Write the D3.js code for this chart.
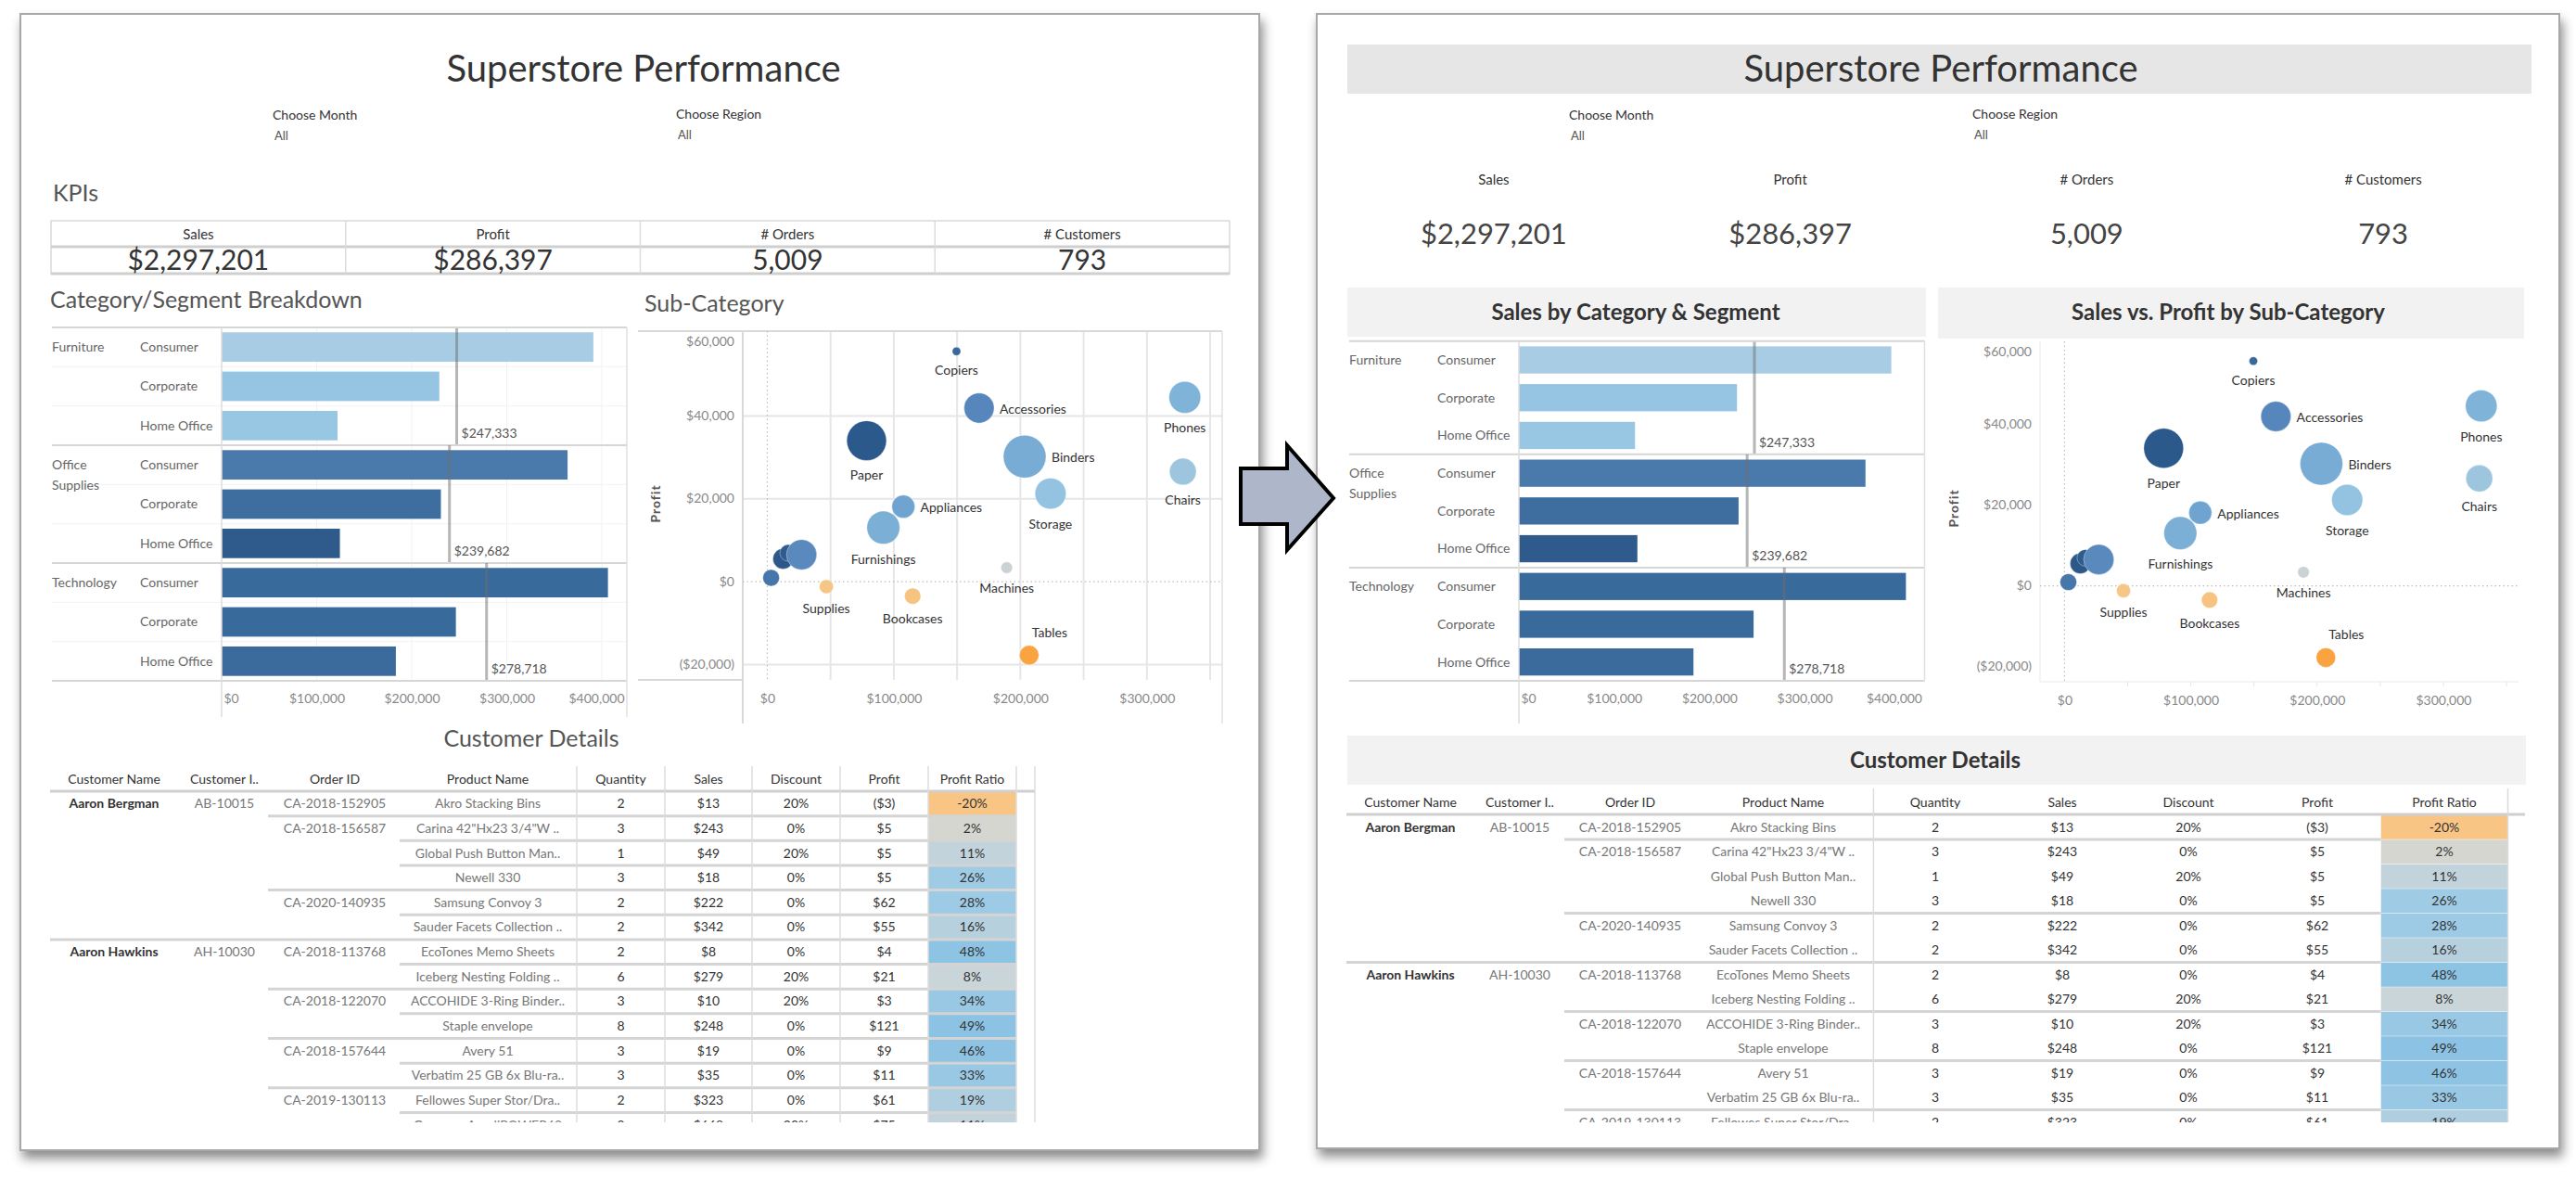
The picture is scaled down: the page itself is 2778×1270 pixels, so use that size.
<!DOCTYPE html>
<html>
<head>
<meta charset="utf-8">
<script src="https://cdn.jsdelivr.net/npm/d3@7"></script>
<style>
  body { margin: 0; background: #ffffff; }
  svg { display: block; font-family: Lato, "Open Sans", "Noto Sans", sans-serif; }
</style>
</head>
<body>
<svg id="chart" width="2778" height="1270"></svg>
<script>
// ===================== DATA =====================
const dashboardTitle = "Superstore Performance";
const filterLabels = ["Choose Month", "Choose Region"];
const filterValues = ["All", "All"];

const kpiLabels = ["Sales", "Profit", "# Orders", "# Customers"];
const kpiValues = ["$2,297,201", "$286,397", "5,009", "793"];

const categories = ["Furniture", "Office Supplies", "Technology"];
const segments = ["Consumer", "Corporate", "Home Office"];
const furnitureSales = [391049, 229019, 121930];
const officeSuppliesSales = [363952, 230676, 124418];
const technologySales = [406400, 246450, 183304];
const barTicks = [0, 100000, 200000, 300000, 400000];

const subCategories = ["Phones", "Chairs", "Storage", "Tables", "Binders", "Machines", "Accessories", "Copiers",
  "Bookcases", "Appliances", "Furnishings", "Paper", "Supplies", "Art", "Envelopes", "Labels", "Fasteners"];
const subSales = [330007, 328449, 223844, 206966, 203413, 189239, 167380, 149528,
  114880, 107532, 91705, 78479, 46674, 27119, 16476, 12486, 3024];
const subProfit = [44516, 26590, 21279, -17725, 30222, 3385, 41937, 55618,
  -3473, 18138, 13059, 34054, -1189, 6528, 6964, 5546, 950];
const subQuantity = [3289, 2356, 3158, 1241, 5974, 440, 2976, 234,
  868, 1729, 3563, 5178, 647, 3000, 906, 1364, 914];
const scatterXTicks = [0, 100000, 200000, 300000];
const scatterYTicks = [-20000, 0, 20000, 40000, 60000];

const tableHeaders = ["Customer Name", "Customer I..", "Order ID", "Product Name", "Quantity", "Sales", "Discount", "Profit", "Profit Ratio"];
const customerNames = ["Aaron Bergman", "", "", "", "", "", "Aaron Hawkins", "", "", "", "", "", "", ""];
const customerIds = ["AB-10015", "", "", "", "", "", "AH-10030", "", "", "", "", "", "", ""];
const orderIds = ["CA-2018-152905", "CA-2018-156587", "", "", "CA-2020-140935", "", "CA-2018-113768", "",
  "CA-2018-122070", "", "CA-2018-157644", "", "CA-2019-130113", ""];
const productNames = ["Akro Stacking Bins", "Carina 42\"Hx23 3/4\"W ..", "Global Push Button Man..", "Newell 330",
  "Samsung Convoy 3", "Sauder Facets Collection ..", "EcoTones Memo Sheets", "Iceberg Nesting Folding ..",
  "ACCOHIDE 3-Ring Binder..", "Staple envelope", "Avery 51", "Verbatim 25 GB 6x Blu-ra..",
  "Fellowes Super Stor/Dra..", "Geemarc AmpliPOWER60"];
const quantities = [2, 3, 1, 3, 2, 2, 2, 6, 3, 8, 3, 3, 2, 9];
const lineSales = [13, 243, 49, 18, 222, 342, 8, 279, 10, 248, 19, 35, 323, 668];
const discounts = [0.2, 0, 0.2, 0, 0, 0, 0, 0.2, 0.2, 0, 0, 0, 0, 0.2];
const lineProfits = [-3, 5, 5, 5, 62, 55, 4, 21, 3, 121, 9, 11, 61, 75];
const profitRatios = [-0.20, 0.02, 0.11, 0.26, 0.28, 0.16, 0.48, 0.08, 0.34, 0.49, 0.46, 0.33, 0.19, 0.11];

// ===================== STYLES =====================
const FONT = "Lato, 'Open Sans', sans-serif";
const barPalette = {
  "Furniture": ["#a7cce3", "#95c5e2", "#98c7e3"],
  "Office Supplies": ["#4a7aab", "#3e6e9f", "#2e5b8b"],
  "Technology": ["#386a9c", "#386a9c", "#3a6b9c"]
};
const bubbleColor = d3.scaleLinear()
  .domain([-0.09, -0.02, 0.02, 0.10, 0.17, 0.25, 0.44])
  .range(["#f9a03c", "#f6c98c", "#c8d3d8", "#90c2e0", "#6fa3d0", "#5686bb", "#2b5889"])
  .clamp(true);
const ratioColor = d3.scaleLinear()
  .domain([-0.2, 0, 0.1, 0.25, 0.5])
  .range(["#f8c585", "#dad7cf", "#c5d4da", "#a0cbe5", "#8bc2e3"])
  .clamp(true);
const labelPlacement = {
  Phones: "below", Chairs: "below", Storage: "below", Tables: "aboveRight", Binders: "right",
  Machines: "below", Accessories: "right", Copiers: "below", Bookcases: "below", Appliances: "right",
  Furnishings: "below", Paper: "below", Supplies: "below"
};

const salesByCategory = [furnitureSales, officeSuppliesSales, technologySales];
const locale = d3.formatLocale({ decimal: ".", thousands: ",", grouping: [3], currency: ["$", ""], minus: "-" });
const money = v => (v < 0 ? "($" + locale.format(",")(-v) + ")" : "$" + locale.format(",")(v));
const pct = locale.format(".0%");

// ===================== SETUP =====================
const svg = d3.select("#chart");
const defs = svg.append("defs");
const shadow = defs.append("filter").attr("id", "shadow")
  .attr("x", "-3%").attr("y", "-3%").attr("width", "108%").attr("height", "110%");
shadow.append("feDropShadow").attr("dx", 3).attr("dy", 8).attr("stdDeviation", 6)
  .attr("flood-color", "#000").attr("flood-opacity", 0.45);

function T(g, x, y, s, o = {}) {
  return g.append("text").attr("x", x).attr("y", y).text(s)
    .attr("font-size", o.size || 14).attr("fill", o.color || "#333")
    .attr("text-anchor", o.anchor || "start").attr("font-weight", o.weight || 400)
    .attr("dy", o.dy || null).attr("letter-spacing", o.ls || null);
}
function L(g, x1, y1, x2, y2, o = {}) {
  return g.append("line").attr("x1", x1).attr("y1", y1).attr("x2", x2).attr("y2", y2)
    .attr("stroke", o.color || "#d9d9d9").attr("stroke-width", o.w || 1.5)
    .attr("stroke-dasharray", o.dash || null);
}

// ===================== FRAMES =====================
[[22, 15, 1336, 1225], [1420, 15, 1340, 1223]].forEach(f => {
  svg.append("rect").attr("x", f[0]).attr("y", f[1]).attr("width", f[2]).attr("height", f[3])
    .attr("fill", "#fff").attr("stroke", "#a8a8a8").attr("stroke-width", 2).attr("filter", "url(#shadow)");
});

// ===================== ARROW =====================
const arrowPts = [[1338, 505], [1388, 505], [1388, 480], [1438, 537], [1388, 593], [1388, 565], [1338, 565]];
svg.append("path").attr("d", d3.line()(arrowPts) + "Z")
  .attr("fill", "#aeb7c9").attr("stroke", "#000").attr("stroke-width", 4).attr("stroke-linejoin", "miter");

// ===================== BAR CHART =====================
function drawBars(cfg) {
  const g = svg.append("g");
  const x = d3.scaleLinear().domain([0, cfg.xMax]).range([cfg.x0, cfg.x1]);
  const sec = d3.scaleBand().domain(categories).range([cfg.top, cfg.bottom]);
  if (cfg.grid) {
    barTicks.slice(1).forEach(t => L(g, x(t), cfg.top, x(t), cfg.bottom, { color: "#f2f2f2", w: 1 }));
  }
  categories.forEach((cat, i) => {
    const sTop = sec(cat), sH = sec.bandwidth();
    const y = d3.scaleBand().domain(segments).range([sTop, sTop + sH])
      .paddingInner(cfg.pad).paddingOuter(cfg.pad / 2);
    if (cfg.grid) {
      segments.slice(1).forEach(s => {
        const yy = y(s) - y.step() * cfg.pad / 2;
        L(g, cfg.labelX, yy, cfg.x1, yy, { color: "#f2f2f2", w: 1 });
      });
    }
    const rows = segments.map((s, j) => ({ seg: s, v: salesByCategory[i][j], c: barPalette[cat][j] }));
    g.selectAll(null).data(rows).join("rect")
      .attr("x", x(0)).attr("y", d => y(d.seg))
      .attr("width", d => x(d.v) - x(0)).attr("height", y.bandwidth())
      .attr("fill", d => d.c);
    rows.forEach(d => T(g, cfg.segX, y(d.seg) + y.bandwidth() / 2, d.seg, { color: "#666", dy: "0.35em" }));
    const words = cat.split(" ");
    const firstY = y(segments[0]) + y.bandwidth() / 2;
    words.forEach((w, k) => T(g, cfg.labelX, firstY + k * 22, w, { color: "#666", dy: "0.35em" }));
    const avg = d3.mean(salesByCategory[i]);
    L(g, x(avg), sTop, x(avg), sTop + sH, { color: "rgba(110,110,110,0.5)", w: 3 });
    T(g, x(avg) + 5, sTop + sH - 8, "$" + locale.format(",")(Math.round(avg)), { color: "#555", size: 14 });
    L(g, cfg.labelX, sTop + sH, cfg.x1, sTop + sH, { color: "#d6d6d6", w: 2 });
  });
  L(g, cfg.labelX, cfg.top, cfg.x1, cfg.top, { color: "#d6d6d6", w: 2 });
  L(g, x(0), cfg.top, x(0), cfg.axisBottom, { color: "#dcdcdc", w: 1.5 });
  L(g, cfg.x1, cfg.top, cfg.x1, cfg.rightBottom, { color: "#e0e0e0", w: 1.5 });
  const ax = g.append("g").attr("transform", `translate(0,${cfg.bottom})`)
    .call(d3.axisBottom(x).tickValues(barTicks).tickFormat(money).tickSize(0).tickPadding(14));
  ax.select(".domain").remove();
  ax.selectAll("text").attr("font-family", FONT).attr("font-size", 14).attr("fill", "#888");
  const ticks = ax.selectAll(".tick").nodes();
  d3.select(ticks[0]).select("text").attr("text-anchor", "start").attr("x", 2);
  d3.select(ticks[ticks.length - 1]).select("text").attr("text-anchor", "end")
    .attr("x", cfg.x1 - 3 - x(barTicks[barTicks.length - 1]));
}

// ===================== SCATTER =====================
function drawScatter(cfg) {
  const g = svg.append("g");
  const x = d3.scaleLinear().domain([-19400, 359500]).range([cfg.x0, cfg.x1]);
  const y = d3.scaleLinear().domain([-23700, 60500]).range([cfg.y1, cfg.y0]);
  const r = d3.scaleSqrt().domain([0, d3.max(subQuantity)]).range([0, 23]);
  if (cfg.grid) {
    d3.range(50000, 359000, 50000).forEach(t => L(g, x(t), cfg.y0, x(t), cfg.y1, { color: "#e6e6e6", w: 2 }));
    [-20000, 20000, 40000].forEach(t => L(g, cfg.x0, y(t), cfg.x1, y(t), { color: "#e6e6e6", w: 2 }));
    L(g, cfg.axisLeft, cfg.y0, cfg.x1, cfg.y0, { color: "#d9d9d9", w: 2 });
    L(g, cfg.axisLeft, cfg.y1, cfg.x0, cfg.y1, { color: "#d9d9d9", w: 2 });
    L(g, cfg.x0, cfg.y0, cfg.x0, cfg.y1 + 47, { color: "#d9d9d9", w: 2 });
    L(g, cfg.x1, cfg.y0, cfg.x1, cfg.y1 + 47, { color: "#e0e0e0", w: 1.5 });
  } else {
    L(g, cfg.x0, cfg.y0, cfg.x0, cfg.y1, { color: "#f0f0f0", w: 1.5 });
    L(g, cfg.x0, cfg.y1, cfg.x1, cfg.y1, { color: "#f0f0f0", w: 1.5 });
    d3.range(50000, 359000, 50000).forEach(t => L(g, x(t), cfg.y1, x(t), cfg.y1 + 5, { color: "#e6e6e6", w: 1 }));
  }
  L(g, x(0), cfg.y0, x(0), cfg.y1, { color: "#bdbdbd", w: 1.2, dash: "1.5,3" });
  L(g, cfg.x0, y(0), cfg.x1, y(0), { color: "#bdbdbd", w: 1.2, dash: "1.5,3" });

  const ax = g.append("g").attr("transform", `translate(0,${cfg.y1})`)
    .call(d3.axisBottom(x).tickValues(scatterXTicks).tickFormat(money).tickSize(0).tickPadding(15));
  ax.select(".domain").remove();
  ax.selectAll("text").attr("font-family", FONT).attr("font-size", 14).attr("fill", "#888");
  const ay = g.append("g").attr("transform", `translate(${cfg.x0},0)`)
    .call(d3.axisLeft(y).tickValues(scatterYTicks).tickFormat(money).tickSize(0).tickPadding(9));
  ay.select(".domain").remove();
  ay.selectAll("text").attr("font-family", FONT).attr("font-size", 14).attr("fill", "#888");
  ay.selectAll(".tick").attr("transform", d => `translate(0,${Math.max(y(d), cfg.y0 + 12)})`);
  T(g, 0, 0, "Profit", { size: 14, weight: 700, color: "#555", anchor: "middle", ls: "1px" })
    .attr("transform", `translate(${cfg.titleX},${cfg.titleY}) rotate(-90)`);

  const pts = subCategories.map((s, i) => ({
    name: s, sales: subSales[i], profit: subProfit[i], q: subQuantity[i], ratio: subProfit[i] / subSales[i]
  })).sort((a, b) => a.sales - b.sales);
  g.selectAll(null).data(pts).join("circle")
    .attr("cx", d => x(d.sales)).attr("cy", d => y(d.profit)).attr("r", d => r(d.q))
    .attr("fill", d => bubbleColor(d.ratio)).attr("stroke", "rgba(255,255,255,0.35)").attr("stroke-width", 1);
  pts.filter(d => labelPlacement[d.name]).forEach(d => {
    const cx = x(d.sales), cy = y(d.profit), rr = r(d.q), pos = labelPlacement[d.name];
    if (pos === "below") T(g, cx, cy + rr + 16, d.name, { anchor: "middle", dy: "0.35em" });
    else if (pos === "right") T(g, cx + rr + 6, cy + 1, d.name, { dy: "0.35em" });
    else T(g, cx + 22, cy - rr - 14, d.name, { anchor: "middle", dy: "0.35em" });
  });
}

// ===================== TABLE =====================
function drawTable(cfg) {
  const g = svg.append("g");
  tableHeaders.forEach((h, i) => T(g, cfg.cols[i], cfg.headerBase, h, { anchor: "middle", color: "#333" }));
  const n = customerNames.length;
  const rowsIdx = d3.range(n);
  const y = d3.scaleBand().domain(rowsIdx).range([cfg.rowTop, cfg.rowTop + cfg.rowH * n]);
  const clipId = "clip" + cfg.id;
  defs.append("clipPath").attr("id", clipId).append("rect")
    .attr("x", cfg.x0 - 5).attr("y", cfg.rowTop).attr("width", cfg.x1 - cfg.x0 + 40)
    .attr("height", cfg.clipBottom - cfg.rowTop);
  const body = g.append("g").attr("clip-path", `url(#${clipId})`);
  body.selectAll(null).data(rowsIdx).join("rect")
    .attr("x", cfg.ratioX0).attr("y", i => y(i)).attr("width", cfg.ratioX1 - cfg.ratioX0)
    .attr("height", y.bandwidth()).attr("fill", i => ratioColor(profitRatios[i]));
  rowsIdx.slice(1).forEach(i => {
    const yy = y(i);
    if (customerNames[i]) L(body, cfg.x0, yy, cfg.sepEnd, yy, { color: "#d4d4d4", w: 3 });
    else if (orderIds[i]) L(body, cfg.orderX, yy, cfg.sepEnd, yy, { color: "#d4d4d4", w: 3 });
    else if (cfg.prodX) L(body, cfg.prodX, yy, cfg.sepEnd, yy, { color: "#d4d4d4", w: 3 });
    if (cfg.ratioSeams) L(body, cfg.ratioX0, yy, cfg.ratioX1, yy, { color: "rgba(255,255,255,0.45)", w: 1 });
  });
  rowsIdx.forEach(i => {
    const cy = y(i) + y.bandwidth() / 2;
    const cells = [
      [customerNames[i], "#333", 700], [customerIds[i], "#777", 400], [orderIds[i], "#777", 400],
      [productNames[i], "#777", 400], [String(quantities[i]), "#333", 400], ["$" + lineSales[i], "#333", 400],
      [pct(discounts[i]), "#333", 400], [money(lineProfits[i]), "#333", 400], [pct(profitRatios[i]), "#333", 400]
    ];
    cells.forEach((c, k) => { if (c[0]) T(body, cfg.cols[k], cy, c[0], { anchor: "middle", color: c[1], weight: c[2], dy: "0.35em" }); });
  });
  L(g, cfg.x0, cfg.headerLine, cfg.headerLineEnd, cfg.headerLine, { color: "#cfcfcf", w: 3 });
  cfg.vlines.forEach(vx => L(g, vx, cfg.vTop, vx, cfg.clipBottom, { color: "#dcdcdc", w: 1.5 }));
}

// ===================== LEFT DASHBOARD =====================
const left = svg.append("g");
T(left, 694, 88, dashboardTitle, { size: 40, anchor: "middle", color: "#333" });
[[294, 129], [729, 128]].forEach((p, i) => {
  T(left, p[0], p[1], filterLabels[i], { size: 14, color: "#333" });
  T(left, p[0] + 2, p[1] + 22, filterValues[i], { size: 13, color: "#555" });
});
T(left, 57, 217, "KPIs", { size: 25, color: "#555" });
const kpiL = d3.scaleBand().domain(kpiLabels).range([55, 1326]);
left.append("rect").attr("x", 55).attr("y", 238).attr("width", 1271).attr("height", 57)
  .attr("fill", "none").attr("stroke", "#d9d9d9").attr("stroke-width", 1.5);
L(left, 55, 266, 1326, 266, { color: "#cfcfcf", w: 3 });
L(left, 55, 295, 1326, 295, { color: "#cfcfcf", w: 3 });
kpiLabels.forEach((k, i) => {
  if (i > 0) L(left, kpiL(k), 238, kpiL(k), 295, { color: "#dcdcdc", w: 1.5 });
  T(left, kpiL(k) + kpiL.bandwidth() / 2, 258, k, { size: 15, anchor: "middle", color: "#333" });
  T(left, kpiL(k) + kpiL.bandwidth() / 2, 291, kpiValues[i], { size: 30, anchor: "middle", color: "#333" });
});
T(left, 54, 332, "Category/Segment Breakdown", { size: 25, color: "#555" });
T(left, 695, 336, "Sub-Category", { size: 25, color: "#555" });
drawBars({ x0: 239, x1: 676, xMax: 426300, top: 353, bottom: 734, pad: 0.25, labelX: 56, segX: 151,
  axisBottom: 773, rightBottom: 773, grid: true });
drawScatter({ x0: 801, x1: 1318, y0: 357, y1: 733, grid: true, axisLeft: 688, titleX: 712, titleY: 543 });
T(left, 573, 805, "Customer Details", { size: 25, anchor: "middle", color: "#555" });
drawTable({ id: "L", cols: [123, 242, 361, 526, 669.5, 764, 858.5, 953.5, 1048.5], headerBase: 845,
  headerLine: 853, headerLineEnd: 1116, rowTop: 853, rowH: 26.65, x0: 54, x1: 1096, orderX: 289, prodX: 431,
  sepEnd: 1096, ratioX0: 1001, ratioX1: 1096, clipBottom: 1210, vTop: 826,
  vlines: [622, 717, 811, 906, 1001, 1096, 1116], ratioSeams: false });

// ===================== RIGHT DASHBOARD =====================
const right = svg.append("g");
right.append("rect").attr("x", 1453).attr("y", 48).attr("width", 1277).attr("height", 53).attr("fill", "#e6e6e6");
T(right, 2093, 88, dashboardTitle, { size: 40, anchor: "middle", color: "#333" });
[[1692, 129], [2127, 128]].forEach((p, i) => {
  T(right, p[0], p[1], filterLabels[i], { size: 14, color: "#333" });
  T(right, p[0] + 2, p[1] + 22, filterValues[i], { size: 13, color: "#555" });
});
const kpiR = d3.scaleBand().domain(kpiLabels).range([1451, 2730]);
kpiLabels.forEach((k, i) => {
  T(right, kpiR(k) + kpiR.bandwidth() / 2, 199, k, { size: 15, anchor: "middle", color: "#333" });
  T(right, kpiR(k) + kpiR.bandwidth() / 2, 263, kpiValues[i], { size: 31, anchor: "middle", color: "#444" });
});
[[1453, 310, 624, 53, "Sales by Category & Segment", 1764], [2090, 310, 632, 55, "Sales vs. Profit by Sub-Category", 2403],
 [1453, 793, 1271, 53, "Customer Details", 2087]].forEach(b => {
  right.append("rect").attr("x", b[0]).attr("y", b[1]).attr("width", b[2]).attr("height", b[3]).attr("fill", "#f2f2f2");
  T(right, b[5], b[1] + 35, b[4], { size: 24, weight: 700, anchor: "middle", color: "#333" });
});
drawBars({ x0: 1638, x1: 2075.5, xMax: 426000, top: 367.7, bottom: 734, pad: 0.28, labelX: 1455, segX: 1550,
  axisBottom: 780, rightBottom: 734, grid: false });
drawScatter({ x0: 2200, x1: 2716, y0: 368, y1: 735, grid: false, axisLeft: 2200, titleX: 2112, titleY: 548 });
drawTable({ id: "R", cols: [1521, 1639, 1758, 1923, 2087, 2224, 2360, 2499, 2636], headerBase: 870,
  headerLine: 878, headerLineEnd: 2723, rowTop: 878.5, rowH: 26.5, x0: 1452, x1: 2704, orderX: 1687, prodX: null,
  sepEnd: 2567.7, ratioX0: 2567.7, ratioX1: 2704.5, clipBottom: 1210, vTop: 850,
  vlines: [2020.4, 2704.5], ratioSeams: true });
</script>
</body>
</html>
